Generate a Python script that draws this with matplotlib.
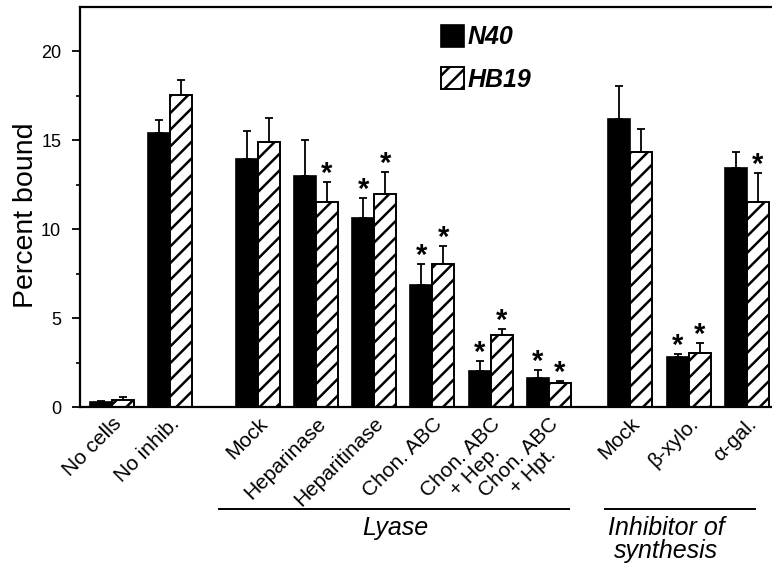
import matplotlib
matplotlib.use("Agg")
import matplotlib.pyplot as plt
import matplotlib.transforms as mtransforms
from matplotlib.patches import Patch
from matplotlib.lines import Line2D

# ---------------- data ----------------
categories = ['No cells', 'No inhib.', 'Mock', 'Heparinase', 'Heparitinase',
              'Chon. ABC', 'Chon. ABC\n+ Hep.', 'Chon. ABC\n+ Hpt.',
              'Mock', '\u03b2-xylo.', '\u03b1-gal.']
n40 = [0.28, 15.4, 13.97, 12.98, 10.64, 6.89, 2.04, 1.65, 16.22, 2.83, 13.44]
n40_err = [0.08, 0.75, 1.55, 2.06, 1.14, 1.14, 0.54, 0.43, 1.81, 0.15, 0.9]
hb19 = [0.38, 17.53, 14.9, 11.55, 11.97, 8.02, 4.04, 1.33, 14.34, 3.05, 11.53]
hb19_err = [0.2, 0.84, 1.35, 1.1, 1.24, 1.02, 0.34, 0.13, 1.28, 0.53, 1.63]
n40_sig = [0, 0, 0, 0, 1, 1, 1, 1, 0, 1, 0]
hb19_sig = [0, 0, 0, 1, 1, 1, 1, 1, 0, 1, 1]
series_names = ['N40', 'HB19']
group_sizes = [2, 6, 3]
group_labels = ['', 'Lyase', 'Inhibitor of\nsynthesis']
yticks = [0, 5, 10, 15, 20]

# ---------------- layout ----------------
plt.rcParams['font.family'] = ['Liberation Sans', 'DejaVu Sans']
plt.rcParams['hatch.linewidth'] = 1.8
plt.rcParams['hatch.color'] = 'black'

gap_extra = [0.0, 0.5, 0.4]
positions = []
x = 0.0
for g, size in enumerate(group_sizes):
    x += gap_extra[g]
    for i in range(size):
        positions.append(x)
        x += 1.0

W, H = 772, 565
fig = plt.figure(figsize=(W / 100, H / 100), dpi=100)
ax = fig.add_axes([80 / W, 1 - 407 / H, 1 - 80 / W, 400 / H])

bw = 0.378
xb = [p - bw / 2 for p in positions]
xh = [p + bw / 2 for p in positions]

ax.bar(xb, n40, width=bw, color='black', edgecolor='black', linewidth=1.2, zorder=2)
ax.bar(xh, hb19, width=bw, color='white', edgecolor='black', linewidth=1.4,
       hatch='//', zorder=2)

ax.errorbar(xb, n40, yerr=[[0] * len(n40), n40_err], fmt='none', ecolor='black',
            elinewidth=1.3, capsize=3.2, capthick=1.3, zorder=3)
ax.errorbar(xh, hb19, yerr=[[0] * len(hb19), hb19_err], fmt='none', ecolor='black',
            elinewidth=1.3, capsize=3.2, capthick=1.3, zorder=3)

for xs, vals, errs, sig in [(xb, n40, n40_err, n40_sig), (xh, hb19, hb19_err, hb19_sig)]:
    for xi, v, e, s in zip(xs, vals, errs, sig):
        if s:
            ax.annotate('*', xy=(xi, v + e), xytext=(0, 0), textcoords='offset points',
                        ha='center', va='baseline', fontsize=21, fontweight='bold')

ax.set_xlim(-0.549, 11.33)
ax.set_ylim(0, 22.5)
ax.set_yticks(yticks)
ax.set_yticks([2.5, 7.5, 12.5, 17.5], minor=True)
ax.tick_params(axis='y', which='major', direction='out', length=5.5, width=1.3,
               labelsize=13, pad=8)
ax.tick_params(axis='y', which='minor', direction='out', length=3, width=1.2)
ax.set_xticks(positions)
ax.set_xticklabels(categories, rotation=45, ha='right', va='top',
                   rotation_mode='anchor', fontsize=15, multialignment='center',
                   linespacing=1.05)
ax.tick_params(axis='x', length=0, pad=5)
ax.set_ylabel('Percent bound', fontsize=20.5)
ax.yaxis.set_label_coords(-0.0592, 0.48)

for side in ['left', 'top', 'bottom']:
    ax.spines[side].set_linewidth(1.6)
ax.spines['right'].set_visible(False)

# group underline and labels
trans = mtransforms.blended_transform_factory(ax.transData, ax.transAxes)
line_ext = [None, (1.837, 7.84), (8.46, 11.04)]
label_x = [None, 4.86, 9.51]
line_pitch = 23 / 400
for g in range(len(group_sizes)):
    if line_ext[g] is None:
        continue
    x0, x1 = line_ext[g]
    ax.add_line(Line2D([x0, x1], [-0.255, -0.255], transform=trans, color='black',
                       linewidth=1.4, clip_on=False))
    for k, part in enumerate(group_labels[g].split('\n')):
        ax.text(label_x[g], -0.32 - k * line_pitch, part, transform=trans, ha='center',
                va='baseline', fontsize=18, style='italic')

handles = [Patch(facecolor='black', edgecolor='black', linewidth=1.2),
           Patch(facecolor='white', edgecolor='black', linewidth=1.4, hatch='//')]
leg = ax.legend(handles, series_names, loc='upper left', bbox_to_anchor=(0.5217, 0.955),
                frameon=False, borderpad=0, borderaxespad=0, handlelength=0.9,
                handleheight=0.95, handletextpad=0.15, labelspacing=0.72,
                prop=dict(family='Liberation Sans', weight='bold', style='italic', size=18))

fig.savefig('out.png', dpi=100)
